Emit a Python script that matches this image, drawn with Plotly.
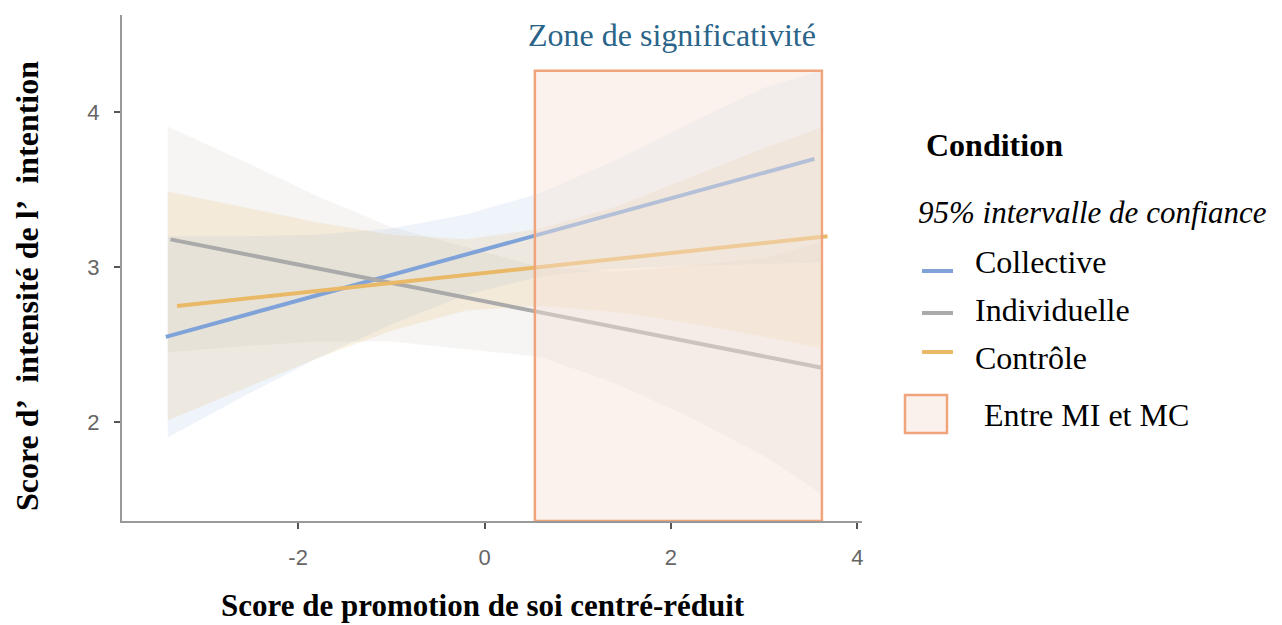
"""
Intensité de l'intention selon la promotion de soi, par condition,
avec IC 95 % et zone de significativité (entre MI et MC).
"""

import plotly.graph_objects as go

# la page ajoute 8 px de marge (body) : on compense
OFF = 8
W, H = 1282 - OFF, 625 - OFF
PLOT_L, PLOT_R, PLOT_T, PLOT_B = 122, 862, 15, 521  # en px de la référence

# --- données ----------------------------------------------------------
conditions = ["Collective", "Individuelle", "Contrôle"]
line_x = {
    "Collective": [-3.42, 3.54],
    "Individuelle": [-3.37, 3.62],
    "Contrôle": [-3.30, 3.68],
}
line_y = {
    "Collective": [2.55, 3.70],
    "Individuelle": [3.18, 2.35],
    "Contrôle": [2.75, 3.20],
}

band_x = [-3.4, -2.6, -1.8, -1.0, -0.2, 0.6, 1.4, 2.2, 3.0, 3.6]
band_hi = {
    "Collective": [3.20, 3.20, 3.21, 3.25, 3.34, 3.48, 3.69, 3.93, 4.16, 4.27],
    "Individuelle": [3.91, 3.69, 3.46, 3.26, 3.13, 3.00, 2.97, 3.01, 3.06, 3.16],
    "Contrôle": [3.49, 3.39, 3.29, 3.21, 3.18, 3.25, 3.39, 3.58, 3.77, 3.90],
}
band_lo = {
    "Collective": [1.90, 2.16, 2.41, 2.63, 2.82, 2.94, 2.99, 3.01, 3.02, 3.03],
    "Individuelle": [2.45, 2.49, 2.52, 2.52, 2.47, 2.42, 2.25, 2.03, 1.78, 1.54],
    "Contrôle": [2.01, 2.21, 2.41, 2.59, 2.72, 2.75, 2.71, 2.64, 2.55, 2.48],
}

zone_x = [0.54, 3.62]
zone_y_top = 4.27

x_ticks = [-2, 0, 2, 4]
y_ticks = [2, 3, 4]
x_range = [-3.89, 4.05]
y_range = [1.36, 4.63]

LINE_COLORS = {"Collective": "#7fa3d9", "Individuelle": "#aaaaaa", "Contrôle": "#e9b968"}
BAND_COLORS = {
    "Collective": "rgba(100,150,220,0.10)",
    "Individuelle": "rgba(150,140,130,0.09)",
    "Contrôle": "rgba(230,180,90,0.16)",
}
ZONE_FILL = "rgba(246,226,214,0.45)"
ZONE_LINE = "#f0a47c"
SERIF = "Liberation Serif, Times New Roman, serif"
TICK_FONT = dict(family="Liberation Sans Narrow, Arial Narrow, Liberation Sans", size=22, color="#666666")


def px_x(px):
    return (px - PLOT_L) / (PLOT_R - PLOT_L)


def px_y(py):
    return (PLOT_B - py) / (PLOT_B - PLOT_T)


def label(text, x, y, size=32, xanchor="left", color="black", **kw):
    return dict(text=text, x=px_x(x), y=px_y(y), xref="paper", yref="paper",
                xanchor=xanchor, yanchor="middle", showarrow=False, borderpad=0,
                font=dict(family=SERIF, size=size, color=color), **kw)


fig = go.Figure()

for cond in conditions:
    fig.add_trace(go.Scatter(
        x=band_x + band_x[::-1],
        y=band_hi[cond] + band_lo[cond][::-1],
        fill="toself",
        fillcolor=BAND_COLORS[cond],
        line=dict(width=0),
        mode="lines",
        hoverinfo="skip",
        showlegend=False,
    ))

for cond in conditions:
    fig.add_trace(go.Scatter(
        x=line_x[cond],
        y=line_y[cond],
        mode="lines",
        name=cond,
        line=dict(color=LINE_COLORS[cond], width=4),
        showlegend=False,
    ))

# zone de significativité
fig.add_shape(
    type="rect", xref="x", yref="y",
    x0=zone_x[0], x1=zone_x[1], y0=y_range[0], y1=zone_y_top,
    fillcolor=ZONE_FILL, line=dict(color=ZONE_LINE, width=2.5),
    layer="above",
)

annotations = [
    label("Zone de significativité", 672, 35, xanchor="center", color="#2a6489"),
    label("<b>Score de promotion de soi centré-réduit</b>", 483, 605, size=31, xanchor="center"),
    label("<b>Score d’\u00a0 intensité de l’\u00a0 intention</b>", 27, 286,
          xanchor="center", textangle=-90),
    label("<b>Condition</b>", 925, 145),
    label("<i>95% intervalle de confiance</i>", 917, 212, size=31),
    label("Entre MI et MC", 983, 415),
]

legend_rows = [(262, 271), (310, 313), (358, 352)]
for cond, (ty, ly) in zip(conditions, legend_rows):
    annotations.append(label(cond, 974, ty))
    fig.add_shape(
        type="line", xref="paper", yref="paper",
        x0=px_x(922), x1=px_x(953), y0=px_y(ly), y1=px_y(ly),
        line=dict(color=LINE_COLORS[cond], width=4),
    )

fig.add_shape(
    type="rect", xref="paper", yref="paper",
    x0=px_x(905), x1=px_x(947), y0=px_y(433), y1=px_y(395),
    fillcolor="#fbf1ec", line=dict(color=ZONE_LINE, width=2.5),
)

fig.update_layout(
    width=W, height=H,
    margin=dict(l=PLOT_L - OFF, r=W - (PLOT_R - OFF), t=PLOT_T - OFF, b=H - (PLOT_B - OFF)),
    plot_bgcolor="white", paper_bgcolor="white",
    showlegend=False,
    annotations=annotations,
)
fig.update_xaxes(
    range=x_range, tickvals=x_ticks, ticktext=[str(v) for v in x_ticks],
    showgrid=False, zeroline=False,
    showline=True, linecolor="#999999", linewidth=2,
    ticks="outside", ticklen=6, tickwidth=2, tickcolor="#555555",
    tickfont=TICK_FONT, ticklabelstandoff=10, automargin=False,
)
fig.update_yaxes(
    range=y_range, tickvals=y_ticks, ticktext=[str(v) for v in y_ticks],
    showgrid=False, zeroline=False,
    showline=True, linecolor="#999999", linewidth=2,
    ticks="outside", ticklen=6, tickwidth=2, tickcolor="#555555",
    tickfont=TICK_FONT, ticklabelstandoff=10, automargin=False,
)

fig.write_html("out.html")
